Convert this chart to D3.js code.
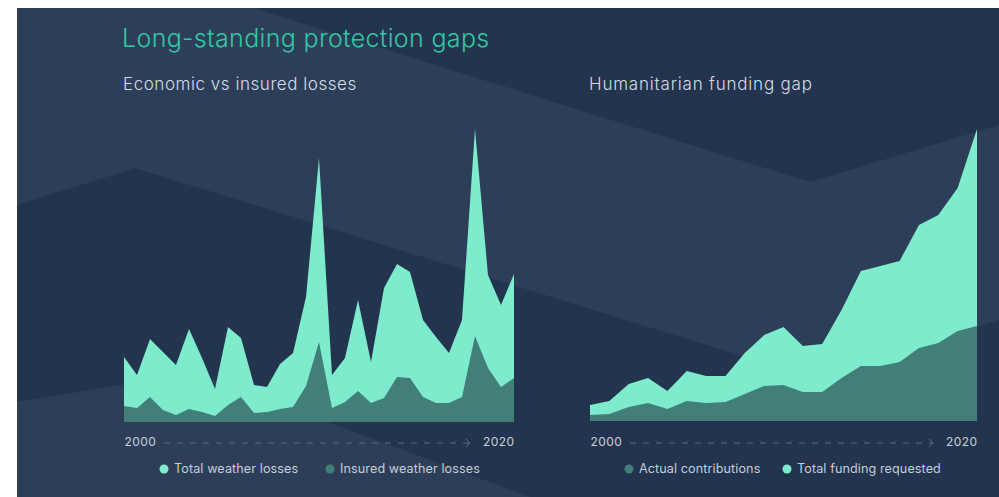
<!DOCTYPE html>
<meta charset="utf-8">
<style>
body { margin: 0; background: #fff; }
svg { display: block; }
text { font-family: Inter, "Noto Sans", sans-serif; }
</style>
<body>
<script src="https://cdn.jsdelivr.net/npm/d3@7"></script>
<script>

// economic vs insured weather losses (31 readings, 2000 -> 2020)
var lossPeriods = [0,1,2,3,4,5,6,7,8,9,10,11,12,13,14,15,16,17,18,19,20,21,22,23,24,25,26,27,28,29,30];
var totalLosses = [65,47,83,70,57,93,64,33,95,84,37,35,58,69,125,264,47,64,122,60,134,158,150,102,85,69,102,293,147,117,148];
var insuredLosses = [16,14,25,12,7,13,10,6,17,25,9,10,13,15,36,80,14,20,31,19,24,45,44,25,19,19,25,86,54,35,44];
var lossTicks = ["2000", "2020"];

// humanitarian funding
var fundYears = [2000,2001,2002,2003,2004,2005,2006,2007,2008,2009,2010,2011,2012,2013,2014,2015,2016,2017,2018,2019,2020];
var fundingRequested = [16,20,37,43,30,50,45,45,68,86,94,75,77,111,150,155,160,196,206,233,292];
var fundingReceived = [6,7,14,18,12,20,18,19,27,35,36,29,29,43,55,55,59,73,78,90,95];
var fundTicks = ["2000", "2020"];

var lightColor = "#7eebcd",
    darkColor = "#437f79";

var svg = d3.select("body").append("svg")
    .attr("width", 999)
    .attr("height", 497);

// backdrop panel with the faceted shapes
svg.append("rect")
    .attr("x", 17).attr("y", 8)
    .attr("width", 982).attr("height", 489)
    .attr("fill", "#22344e");

var facets = [
  [[17,8],[253,8],[810,182],[999,125],[999,320],[810,377],[135,168],[17,205]],
  [[17,402],[195,373],[530,497],[17,497]]
];
svg.selectAll(".facet")
    .data(facets)
  .enter().append("path")
    .attr("class", "facet")
    .attr("d", function(d) { return d3.line()(d) + "Z"; })
    .attr("fill", "#2d3f58");

svg.append("text")
    .text("Long-standing protection gaps")
    .attr("x", 122).attr("y", 47)
    .attr("font-size", "25px")
    .attr("letter-spacing", "0.35px")
    .attr("font-weight", 300)
    .attr("fill", "#33c8a4");

function drawPanel(opt) {
  var g = svg.append("g");

  var x = d3.scaleLinear().domain(d3.extent(opt.xs)).range(opt.xRange);
  var y = d3.scaleLinear().domain([0, 300]).range([opt.base, opt.base - 300]);

  g.append("text")
      .text(opt.title)
      .attr("x", opt.xRange[0] - 1).attr("y", 90)
      .attr("font-size", "17px")
      .attr("letter-spacing", opt.titleSpacing)
      .attr("font-weight", 300)
      .attr("fill", "#d6dce4");

  var rows = opt.xs.map(function(d, i) {
    return {x: d, back: opt.back[i], front: opt.front[i]};
  });

  var backArea = d3.area()
      .x(function(d) { return x(d.x); })
      .y0(y(0))
      .y1(function(d) { return y(d.back); });
  var frontArea = d3.area()
      .x(function(d) { return x(d.x); })
      .y0(y(0))
      .y1(function(d) { return y(d.front); });

  g.append("path").datum(rows).attr("d", backArea).attr("fill", lightColor);
  g.append("path").datum(rows).attr("d", frontArea).attr("fill", darkColor);

  // end labels via axis
  var xEnds = d3.extent(opt.xs);
  var ax = g.append("g")
      .attr("transform", "translate(0,434)")
      .call(d3.axisBottom(x).tickValues(xEnds).tickSize(0)
        .tickFormat(function(d, i) { return opt.ticks[i]; }));
  ax.select(".domain").remove();
  ax.selectAll("text")
      .attr("font-family", "Inter, sans-serif")
      .attr("font-size", "12px")
      .attr("letter-spacing", "0.4px")
      .attr("fill", "#c9d0da")
      .attr("text-anchor", function(d, i) { return i == 0 ? "start" : "end"; });

  // dashed arrow between the years
  var a0 = x(xEnds[0]) + 40, a1 = x(xEnds[1]) - 45;
  g.append("line")
      .attr("x1", a0).attr("x2", a1)
      .attr("y1", 443).attr("y2", 443)
      .attr("stroke", "#5a6b83")
      .attr("stroke-width", 1)
      .attr("stroke-dasharray", "6,7");
  g.append("path")
      .attr("d", "M" + (a1 - 3) + ",439L" + (a1 + 1) + ",443L" + (a1 - 3) + ",447")
      .attr("fill", "none")
      .attr("stroke", "#5a6b83");

  // legend
  var leg = g.selectAll(".leg")
      .data(opt.legend)
    .enter().append("g")
      .attr("class", "leg")
      .attr("transform", function(d) { return "translate(" + d.x + ",469)"; });
  leg.append("circle")
      .attr("r", 4.5)
      .attr("fill", function(d) { return d.color; });
  leg.append("text")
      .text(function(d) { return d.label; })
      .attr("x", 10).attr("dy", "0.35em")
      .attr("font-size", "12.6px")
      .attr("letter-spacing", "0.1px")
      .attr("fill", "#c6cdd8");
}

drawPanel({
  title: "Economic vs insured losses", titleSpacing: "0.55px",
  xs: lossPeriods, back: totalLosses, front: insuredLosses,
  xRange: [124, 514], base: 422, ticks: lossTicks,
  legend: [{x: 164, label: "Total weather losses", color: lightColor},
           {x: 330, label: "Insured weather losses", color: darkColor}]
});

drawPanel({
  title: "Humanitarian funding gap", titleSpacing: "0.8px",
  xs: fundYears, back: fundingRequested, front: fundingReceived,
  xRange: [590, 977], base: 421, ticks: fundTicks,
  legend: [{x: 629, label: "Actual contributions", color: darkColor},
           {x: 787, label: "Total funding requested", color: lightColor}]
});

</script>
</body>
